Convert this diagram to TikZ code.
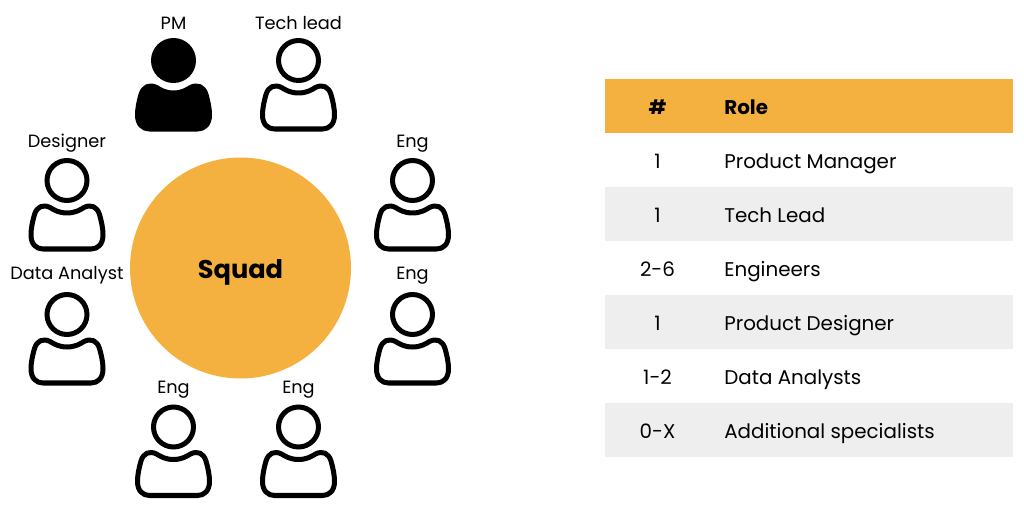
\documentclass[tikz,border=0pt]{standalone}
\usepackage{fontspec}
\setmainfont{Poppins}
\definecolor{squadorange}{HTML}{F5B140}
\definecolor{rowgray}{HTML}{EEEEEE}
\tikzset{
    person/.pic={
        \draw[line width=2.85pt, pic actions] (0,0) circle (20);
        \draw[line width=2.85pt, line join=round, pic actions] (0,32.5)
            .. controls (8,32.5) and (13,29.5) .. (17,27)
            .. controls (24,23.5) and (30,26) .. (32.5,34)
            .. controls (34.5,41) and (36,48) .. (36,54.5)
            .. controls (36,63.5) and (31,68.5) .. (24,68.5)
            -- (-24,68.5)
            .. controls (-31,68.5) and (-36,63.5) .. (-36,54.5)
            .. controls (-36,48) and (-34.5,41) .. (-32.5,34)
            .. controls (-30,26) and (-24,23.5) .. (-17,27)
            .. controls (-13,29.5) and (-8,32.5) .. (0,32.5) -- cycle;
    },
    name label/.style={anchor=base, font=\fontsize{10.1}{12}\selectfont, inner sep=0pt},
    cell num/.style={anchor=base, font=\fontsize{11.3}{13}\selectfont, inner sep=0pt},
    cell role/.style={anchor=base west, font=\fontsize{11.3}{13}\selectfont, inner sep=0pt},
}
\begin{document}
\begin{tikzpicture}[x=0.02cm, y=-0.02cm]
    \useasboundingbox (0,0) rectangle (1024,523);

    % circle
    \fill[squadorange] (240.5,268) circle (110.5);
    \node[anchor=base, font=\bfseries\fontsize{14.6}{18}\selectfont, inner sep=0pt] (squad) at (240.5,279) {Squad};

    % people
    \pic[fill=black] at (173.5,60.5) {person};
    \pic at (298.5,60.5) {person};
    \pic at (67,180.5) {person};
    \pic at (412.5,180.5) {person};
    \pic at (67,314.5) {person};
    \pic at (412.5,314.5) {person};
    \pic at (173.5,427) {person};
    \pic at (298.5,427) {person};

    \node[name label] (pm) at (173.5,30) {PM};
    \node[name label] (techlead) at (298.5,30) {Tech lead};
    \node[name label] (designer) at (67,148) {Designer};
    \node[name label] (enga) at (412.5,148) {Eng};
    \node[name label] (analyst) at (67,280) {Data Analyst};
    \node[name label] (engb) at (412.5,280) {Eng};
    \node[name label] (engc) at (173.5,394) {Eng};
    \node[name label] (engd) at (298.5,394) {Eng};

    % table
    \fill[squadorange] (605,79) rectangle (1013,133);
    \fill[rowgray] (605,187) rectangle (1013,241);
    \fill[rowgray] (605,295) rectangle (1013,349);
    \fill[rowgray] (605,403) rectangle (1013,457);

    \node[cell num, font=\bfseries\fontsize{11.3}{13}\selectfont] (numhead) at (657.5,114.5) {\#};
    \node[cell role, font=\bfseries\fontsize{11.3}{13}\selectfont] (rolehead) at (724,114.5) {Role};

    \node[cell num] (numa) at (657.5,168.5) {1};
    \node[cell role] (rolea) at (724,168.5) {Product Manager};
    \node[cell num] (numb) at (657.5,222.5) {1};
    \node[cell role] (roleb) at (724,222.5) {Tech Lead};
    \node[cell num] (numc) at (657.5,276.5) {2-6};
    \node[cell role] (rolec) at (724,276.5) {Engineers};
    \node[cell num] (numd) at (657.5,330.5) {1};
    \node[cell role] (roled) at (724,330.5) {Product Designer};
    \node[cell num] (nume) at (657.5,384) {1-2};
    \node[cell role] (rolee) at (724,384) {Data Analysts};
    \node[cell num] (numf) at (657.5,438.5) {0-X};
    \node[cell role] (rolef) at (724,438.5) {Additional specialists};
\end{tikzpicture}
\end{document}
